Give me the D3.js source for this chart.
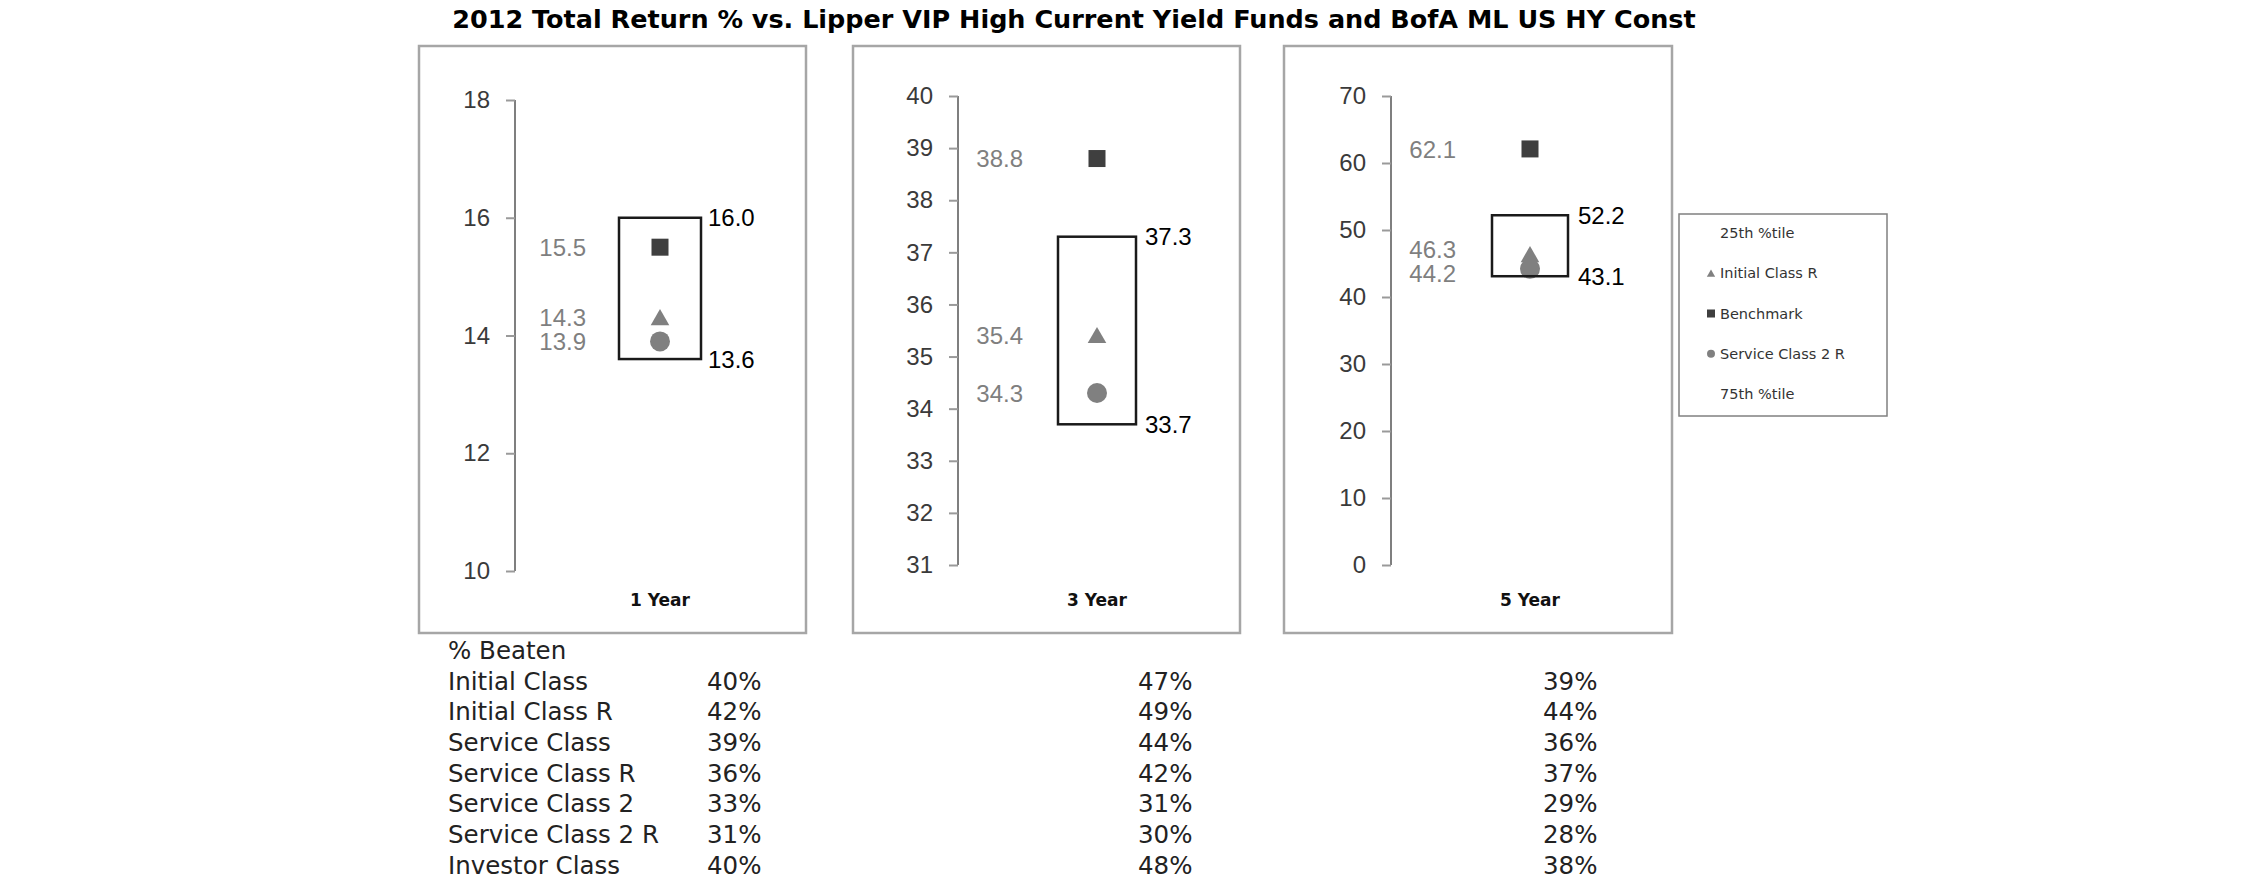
<!DOCTYPE html>
<html><head><meta charset="utf-8">
<script src="https://cdn.jsdelivr.net/npm/d3@7"></script>
<style>body{margin:0;background:#fff}svg{display:block}</style>
</head><body>
<script>
// ---------- data ----------
const titleText = "2012 Total Return % vs. Lipper VIP High Current Yield Funds and BofA ML US HY Const";
const periods = ["1 Year", "3 Year", "5 Year"];
const pct25 = [16.0, 37.3, 52.2];
const pct75 = [13.6, 33.7, 43.1];
const initialClassR = [14.3, 35.4, 46.3];
const benchmark = [15.5, 38.8, 62.1];
const serviceClass2R = [13.9, 34.3, 44.2];
const axisDomains = [[10, 18], [31, 40], [0, 70]];
const axisTicks = [[10, 12, 14, 16, 18], [31, 32, 33, 34, 35, 36, 37, 38, 39, 40], [0, 10, 20, 30, 40, 50, 60, 70]];
const legendItems = ["25th %tile", "Initial Class R", "Benchmark", "Service Class 2 R", "75th %tile"];
const beatenHeader = "% Beaten";
const beatenClasses = ["Initial Class", "Initial Class R", "Service Class", "Service Class R", "Service Class 2", "Service Class 2 R", "Investor Class"];
const beaten1 = [40, 42, 39, 36, 33, 31, 40];
const beaten3 = [47, 49, 44, 42, 31, 30, 48];
const beaten5 = [39, 44, 36, 37, 29, 28, 38];

// ---------- layout ----------
const W = 2250, H = 895;
const frameX = [419, 853, 1284], frameW = [387, 387, 388], frameY = 46, frameH = 587;
const axisX = [515, 958, 1391];
const markerX = [660, 1097, 1530];
const boxHalf = [41, 39, 38];
const yRanges = [[571, 100], [565, 96], [565, 96]];
const labelFont = "'Liberation Sans', Arial, sans-serif";
const verdana = "'DejaVu Sans', Verdana, sans-serif";

const svg = d3.select("body").append("svg").attr("width", W).attr("height", H);

// title
const title = svg.append("text").attr("x", 1074).attr("y", 28).attr("text-anchor", "middle")
  .attr("font-family", verdana).attr("font-weight", "bold").attr("font-size", 22).attr("fill", "#000")
  .text(titleText);
const tw = title.node().getComputedTextLength();
title.attr("font-size", 22 * 1244 / tw);

const markerGrey = "#808080", squareCol = "#3f3f3f";

periods.forEach((p, i) => {
  const g = svg.append("g");
  g.append("rect").attr("x", frameX[i]).attr("y", frameY).attr("width", frameW[i]).attr("height", frameH)
    .attr("fill", "#fff").attr("stroke", "#a6a6a6").attr("stroke-width", 2.5);
  const y = d3.scaleLinear().domain(axisDomains[i]).range(yRanges[i]);
  const ax = g.append("g").attr("transform", `translate(${axisX[i]},0)`)
    .call(d3.axisLeft(y).tickValues(axisTicks[i]).tickSize(9).tickPadding(16).tickFormat(d3.format("d")));
  ax.select(".domain").attr("stroke", "#7f7f7f").attr("stroke-width", 2).attr("d", `M-0,${y.range()[0]}V${y.range()[1]}`);
  ax.selectAll(".tick line").attr("stroke", "#9a9a9a").attr("stroke-width", 2);
  ax.selectAll(".tick text").attr("font-family", labelFont).attr("font-size", 24).attr("fill", "#3a3a3a");

  const mx = markerX[i];
  // markers
  g.append("path").attr("d", d3.symbol(d3.symbolTriangle, 150)()).attr("transform", `translate(${mx},${y(initialClassR[i]) + 2})`).attr("fill", markerGrey);
  g.append("rect").attr("x", mx - 8.5).attr("y", y(benchmark[i]) - 8.5).attr("width", 17).attr("height", 17).attr("fill", squareCol);
  g.append("circle").attr("cx", mx).attr("cy", y(serviceClass2R[i])).attr("r", 10).attr("fill", markerGrey);
  // percentile box
  g.append("rect").attr("x", mx - boxHalf[i]).attr("y", y(pct25[i])).attr("width", 2 * boxHalf[i])
    .attr("height", y(pct75[i]) - y(pct25[i])).attr("fill", "none").attr("stroke", "#1a1a1a").attr("stroke-width", 2.5);
  // right labels
  [pct25[i], pct75[i]].forEach(v => {
    g.append("text").attr("x", mx + 48).attr("y", y(v)).attr("dy", "0.36em")
      .attr("font-family", labelFont).attr("font-size", 24).attr("fill", "#000").text(v.toFixed(1));
  });
  // left labels with de-overlap
  const labs = [benchmark[i], initialClassR[i], serviceClass2R[i]].map(v => ({ v, y: y(v) })).sort((a, b) => a.y - b.y);
  for (let k = 0; k < 5; k++) {
    for (let j = 1; j < labs.length; j++) {
      const gap = labs[j].y - labs[j - 1].y;
      if (gap < 24) { const d = (24 - gap) / 2; labs[j].y += d; labs[j - 1].y -= d; }
    }
  }
  labs.forEach(l => {
    g.append("text").attr("x", mx - 74).attr("y", l.y).attr("dy", "0.36em").attr("text-anchor", "end")
      .attr("font-family", labelFont).attr("font-size", 24).attr("fill", "#7f7f7f").text(l.v.toFixed(1));
  });
  // period label
  g.append("text").attr("x", mx).attr("y", 600).attr("dy", "0.36em").attr("text-anchor", "middle")
    .attr("font-family", verdana).attr("font-weight", "bold").attr("font-size", 17).attr("fill", "#111").text(p);
});

// legend
const lg = svg.append("g");
lg.append("rect").attr("x", 1679).attr("y", 214).attr("width", 208).attr("height", 202)
  .attr("fill", "#fff").attr("stroke", "#808080").attr("stroke-width", 1.5);
const legY = d3.scalePoint().domain(legendItems).range([233, 394]);
legendItems.forEach((t, k) => {
  const yy = legY(t);
  lg.append("text").attr("x", 1720).attr("y", yy).attr("dy", "0.36em").attr("font-family", verdana)
    .attr("font-size", 14.5).attr("fill", "#333").text(t);
});
lg.append("path").attr("d", d3.symbol(d3.symbolTriangle, 30)()).attr("transform", `translate(1711,${legY(legendItems[1]) + 1})`).attr("fill", markerGrey);
lg.append("rect").attr("x", 1707).attr("y", legY(legendItems[2]) - 4).attr("width", 8).attr("height", 8).attr("fill", squareCol);
lg.append("circle").attr("cx", 1711).attr("cy", legY(legendItems[3])).attr("r", 4).attr("fill", markerGrey);

// % Beaten table
const rowY = d3.scaleLinear().domain([0, beatenClasses.length]).range([650, 650 + 30.7 * beatenClasses.length]);
const tfont = 24.5;
const tg = svg.append("g").attr("font-family", verdana).attr("font-size", tfont).attr("fill", "#222");
tg.append("text").attr("x", 448).attr("y", rowY(0)).attr("dy", "0.36em").text(beatenHeader);
const colX = [707, 1138, 1543];
beatenClasses.forEach((c, r) => {
  const yy = rowY(r + 1);
  tg.append("text").attr("x", 448).attr("y", yy).attr("dy", "0.36em").text(c);
  [beaten1, beaten3, beaten5].forEach((arr, ci) => {
    tg.append("text").attr("x", colX[ci]).attr("y", yy).attr("dy", "0.36em").text(arr[r] + "%");
  });
});
</script>
</body></html>
